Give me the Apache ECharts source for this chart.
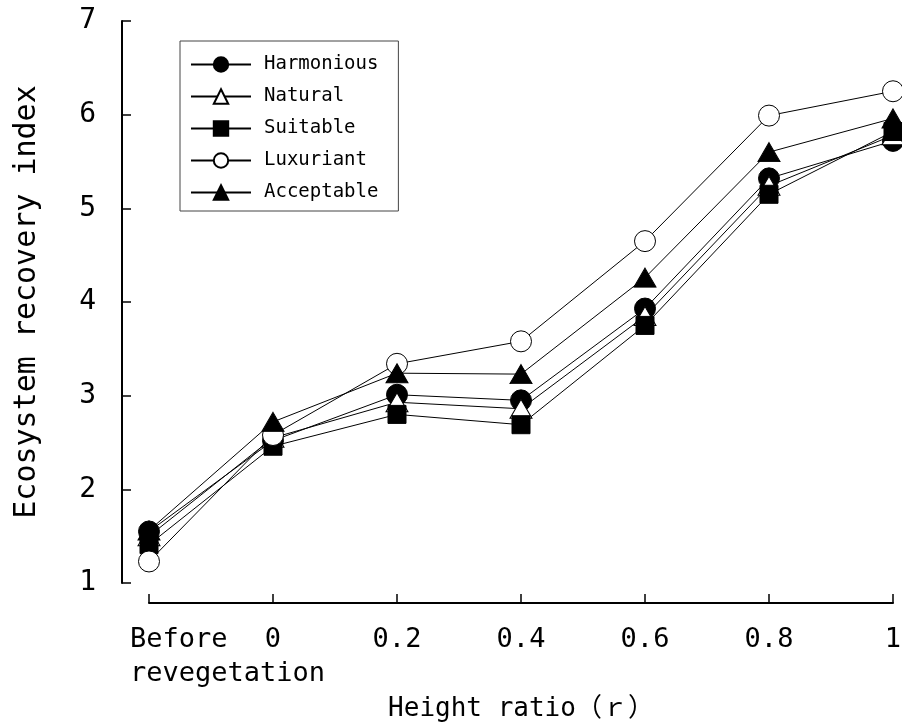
<!DOCTYPE html>
<html>
<head>
<meta charset="utf-8">
<script src="https://cdn.jsdelivr.net/npm/echarts@6/dist/echarts.min.js"></script>
<style>html,body{margin:0;padding:0;background:#fff;}#c{width:902px;height:723px;}</style>
</head>
<body>
<div id="c"></div>
<script>
const categories = ['Before\nrevegetation', '0', '0.2', '0.4', '0.6', '0.8', '1'];
const harmonious = [1.55, 2.52, 3.01, 2.95, 3.93, 5.32, 5.72];
const natural    = [1.50, 2.55, 2.93, 2.86, 3.85, 5.24, 5.78];
const suitable   = [1.41, 2.46, 2.80, 2.69, 3.75, 5.15, 5.82];
const luxuriant  = [1.23, 2.58, 3.34, 3.58, 4.65, 5.99, 6.25];
const acceptable = [1.56, 2.72, 3.24, 3.23, 4.26, 5.60, 5.96];
const yTicks = [1, 7, 1]; // min, max, interval

const FONT = '"DejaVu Sans Mono", "Liberation Mono", "Noto Sans CJK JP", monospace';

function mk(name, data, symbol, filled, size) {
  return {
    name: name, type: 'line', data: data,
    symbol: symbol, symbolSize: size,
    showAllSymbol: true,
    lineStyle: { color: '#000', width: 1 },
    itemStyle: { color: filled ? '#000' : '#fff', borderColor: '#000', borderWidth: 1 },
    emphasis: { disabled: true },
    animation: false
  };
}

const chart = echarts.init(document.getElementById('c'));
chart.setOption({
  backgroundColor: '#fff',
  animation: false,
  grid: { left: 149, right: 9, top: 21, bottom: 140, containLabel: false, outerBoundsMode: 'none' },
  legend: {
    orient: 'vertical', left: 180, top: 41,
    padding: [14, 20, 9, 10],
    itemWidth: 60, itemHeight: 18, itemGap: 13,
    borderColor: '#444', borderWidth: 1,
    textStyle: { fontFamily: FONT, fontSize: 19, color: '#000', padding: [0, 0, 0, 8] },
    data: ['Harmonious', 'Natural', 'Suitable', 'Luxuriant', 'Acceptable']
  },
  xAxis: {
    type: 'category', data: categories, boundaryGap: false,
    offset: 20,
    name: 'Height ratio（ｒ）', nameLocation: 'middle', nameGap: 75,
    nameTextStyle: { fontFamily: FONT, fontSize: 26, color: '#000' },
    axisLine: { lineStyle: { color: '#000', width: 2 } },
    axisTick: { inside: true, length: 9, lineStyle: { color: '#000', width: 1.5 }, alignWithLabel: true },
    axisLabel: {
      fontFamily: FONT, fontSize: 27, color: '#000', margin: 20, lineHeight: 34,
      interval: 0,
      formatter: function (v, i) { return i === 0 ? '{f|' + v.replace('\n', '}\n{f|') + '}' : v; },
      rich: { f: { fontFamily: FONT, fontSize: 27, color: '#000', lineHeight: 34, align: 'left', width: 38 } }
    },
    splitLine: { show: false }
  },
  yAxis: {
    type: 'value', min: yTicks[0], max: yTicks[1], interval: yTicks[2],
    offset: 27,
    name: 'Ecosystem recovery index', nameLocation: 'middle', nameGap: 80,
    nameTextStyle: { fontFamily: FONT, fontSize: 30, color: '#000' },
    axisLine: { show: true, lineStyle: { color: '#000', width: 2 } },
    axisTick: { show: true, inside: true, length: 9, lineStyle: { color: '#000', width: 1.5 } },
    axisLabel: { fontFamily: FONT, fontSize: 28, color: '#000', margin: 26 },
    splitLine: { show: false }
  },
  series: [
    mk('Harmonious', harmonious, 'circle', true, 21),
    mk('Natural', natural, 'triangle', false, [22, 19]),
    mk('Suitable', suitable, 'rect', true, 18),
    mk('Luxuriant', luxuriant, 'circle', false, 21),
    mk('Acceptable', acceptable, 'triangle', true, [22, 19])
  ]
});
</script>
</body>
</html>
